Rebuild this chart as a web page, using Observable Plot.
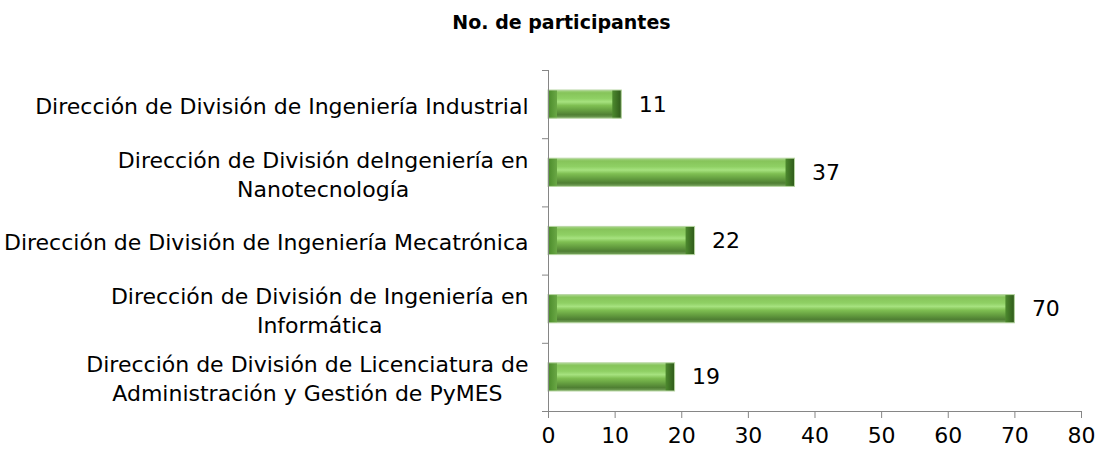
<!DOCTYPE html>
<html><head><meta charset="utf-8">
<script src="https://cdn.jsdelivr.net/npm/d3@7"></script>
<script src="https://cdn.jsdelivr.net/npm/@observablehq/plot@0.6"></script>
<style>
body{margin:0;background:#fff;}
#wrap{position:relative;width:1103px;height:456px;}
#title{position:absolute;top:11px;left:20px;width:1083px;text-align:center;font:bold 19px "DejaVu Sans", sans-serif;color:#000;}
</style>
</head><body><div id="wrap"><div id="title">No. de participantes</div><div id="chart"></div></div>
<script>
const categories = [
  "Dirección de División de Ingeniería Industrial",
  "Dirección de División deIngeniería en\nNanotecnología",
  "Dirección de División de Ingeniería Mecatrónica",
  "Dirección de División de Ingeniería en\nInformática",
  "Dirección de División de Licenciatura de\nAdministración y Gestión de PyMES"
];
const values = [11, 37, 22, 70, 19];
const xTicks = [0, 10, 20, 30, 40, 50, 60, 70, 80];

const data = categories.map((c, i) => ({category: c, value: values[i], idx: i}));
const FS = 22, FONT = "'DejaVu Sans', sans-serif";
const ctx = document.createElement("canvas").getContext("2d");
ctx.font = `${FS}px 'DejaVu Sans'`;
const lineW = c => Math.max(...c.split("\n").map(s => ctx.measureText(s).width));

const labelMarks = data.map(d => Plot.text([d], {
  y: d => d.idx + 0.5, text: "category", frameAnchor: "left", textAnchor: "middle",
  dx: -(20 + lineW(d.category) / 2), fontSize: FS, lineHeight: 1.33, fill: "#000"
}));

const band = {y1: "idx", y2: d => d.idx + 1, insetTop: 20, insetBottom: 20};

const chart = Plot.plot({
  width: 1103, height: 456,
  marginTop: 70, marginBottom: 45, marginLeft: 548, marginRight: 22,
  style: {fontFamily: FONT, background: "#fff"},
  x: {domain: [0, 80], ticks: xTicks, axis: null, label: null},
  y: {domain: [0, categories.length], reverse: true, axis: null, label: null},
  marks: [
    Plot.rect(data, {x1: 0, x2: "value", ...band, fill: "url(#barGrad)"}),
    Plot.rect(data, {x1: 0, x2: 0, ...band, insetRight: -9, fill: "url(#capL)"}),
    Plot.rect(data, {x1: "value", x2: "value", ...band, insetLeft: -9, fill: "url(#capR)"}),
    Plot.rect(data, {x1: 0, x2: "value", ...band, stroke: "#b8d6a3", strokeWidth: 1, fill: "none"}),
    Plot.ruleX([0], {stroke: "#868686", strokeWidth: 1}),
    Plot.ruleY([categories.length], {stroke: "#868686", strokeWidth: 1}),
    Plot.axisY({ticks: d3.range(categories.length + 1), tickSize: 6, tickFormat: () => "", stroke: "#868686", label: null}),
    Plot.axisX({ticks: xTicks, tickSize: 7, tickPadding: 9, fontSize: FS, stroke: "#868686", fill: "#000", anchor: "bottom", tickFormat: d => String(d), label: null}),
    Plot.text(data, {x: "value", y: d => d.idx + 0.5, text: d => String(d.value), textAnchor: "start", dx: 17, fontSize: FS, fill: "#000"}),
    ...labelMarks
  ]
});

const defs = d3.select(chart).insert("defs", ":first-child");
const g = defs.append("linearGradient").attr("id", "barGrad").attr("x1", 0).attr("y1", 0).attr("x2", 0).attr("y2", 1);
[[0, "#a8d68a"], [0.1, "#86c45a"], [0.3, "#8fd064"], [0.42, "#a6e27f"], [0.55, "#7fbf52"], [0.72, "#659f40"], [0.88, "#4f7f33"], [1, "#7aa660"]]
  .forEach(([o, c]) => g.append("stop").attr("offset", o).attr("stop-color", c));
const gl = defs.append("linearGradient").attr("id", "capL").attr("x1", 0).attr("y1", 0).attr("x2", 1).attr("y2", 0);
[[0, "#4a8a2a"], [1, "#6aa845"]].forEach(([o, c]) => gl.append("stop").attr("offset", o).attr("stop-color", c));
const gr = defs.append("linearGradient").attr("id", "capR").attr("x1", 0).attr("y1", 0).attr("x2", 1).attr("y2", 0);
[[0, "#4d8a2e"], [1, "#2f5a1a"]].forEach(([o, c]) => gr.append("stop").attr("offset", o).attr("stop-color", c));
document.getElementById("chart").appendChild(chart);
</script>
</body></html>
